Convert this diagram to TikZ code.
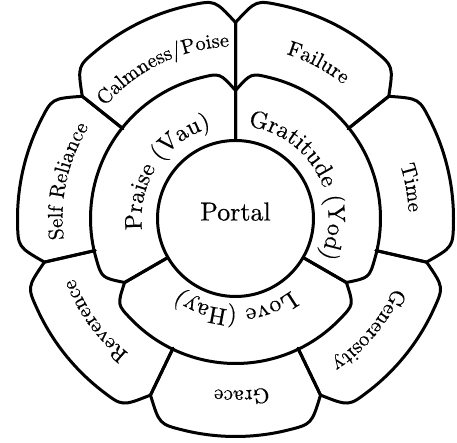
\documentclass[tikz,border=0pt]{standalone}
\usepackage{fontspec}
\setmainfont{lmroman10-regular.otf}[FakeBold=0.4]
\usetikzlibrary{decorations.text}
\tikzset{
  ringline/.style={line width=3pt, line join=round, line cap=round},
}
\newcommand\arclabel[4]{%
  \path[decorate, decoration={text along path, text align=center,
     text={|\fontsize{#3}{#3}\selectfont|#4}}]
     ({#1+70}:#2pt) arc[start angle={#1+70}, end angle={#1-70}, radius=#2pt];}
\begin{document}
\begin{tikzpicture}
\useasboundingbox (0,0) rectangle (457pt,443pt);
\begin{scope}[shift={(235.5pt,224.5pt)}]
  % outer ring
  \foreach \a/\b/\sa/\sb in {90/141.43/128/144, 141.43/192.86/144/144,
      192.86/244.29/144/144, 244.29/295.71/144/144, 295.71/347.14/144/144,
      -12.86/38.57/144/144, 38.57/90/144/128}{
    \draw[ringline] (\a:\sa pt) -- (\a:196pt) .. controls ({\a+5.4}:219.4pt) .. ({\a+12}:218pt)
      arc[start angle={\a+12}, end angle={\b-12}, radius=218pt]
      .. controls ({\b-5.4}:219.4pt) .. (\b:196pt) -- (\b:\sb pt);
  }
  % middle ring
  \foreach \a/\b in {-30/90, 90/210, 210/330}{
    \draw[ringline] (\a:78pt) -- (\a:128pt) .. controls ({\a+6.1}:146.4pt) .. ({\a+14}:145pt)
      arc[start angle={\a+14}, end angle={\b-14}, radius=145pt]
      .. controls ({\b-6.1}:146.4pt) .. (\b:128pt) -- (\b:78pt);
  }
  % portal
  \draw[ringline, fill=white] (0,0) circle[radius=78pt];
  \node (portal) at (0,-2pt) [anchor=base, font=\fontsize{26}{26}\selectfont] {Portal};
  % middle labels
  \arclabel{146}{94}{24}{Praise (Vau)}
  \arclabel{29}{93}{24}{Gratitude (Yod)}
  \arclabel{-90}{91}{24}{Love (Hay)}
  % outer labels
  \arclabel{115.7}{172}{20.5}{Calmness/Poise}
  \arclabel{62}{172}{21}{Failure}
  \arclabel{10}{173}{21}{Time}
  \arclabel{-40}{173}{21}{Generosity}
  \arclabel{-88}{172}{21}{Grace}
  \arclabel{216}{172}{21}{Reverence}
  \arclabel{167.5}{173}{21}{Self Reliance}
\end{scope}
\end{tikzpicture}
\end{document}
